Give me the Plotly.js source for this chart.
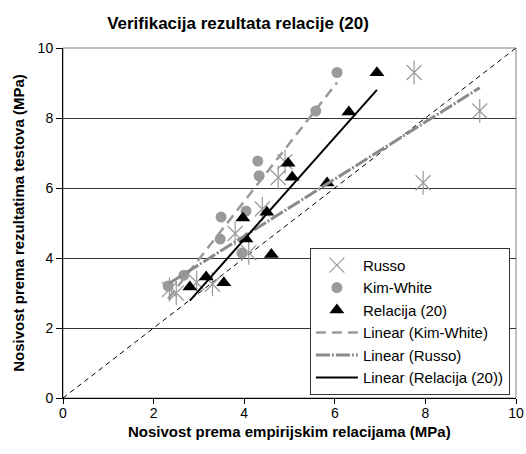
<!DOCTYPE html>
<html>
<head>
<meta charset="utf-8">
<script src="https://cdn.plot.ly/plotly-3.0.1.min.js"></script>
<style>html,body{margin:0;padding:0;background:#fff;}#chart{width:526px;height:454px;}</style>
</head>
<body>
<div id="chart"></div>
<script>
// Data
const russoX = [2.35, 2.5, 2.95, 3.3, 3.8, 4.1, 4.4, 4.75, 4.9, 7.75, 7.95, 9.2];
const russoY = [3.1, 3.0, 3.3, 3.25, 4.7, 4.15, 5.4, 6.3, 6.75, 9.3, 6.15, 8.2];
const kimX = [2.32, 2.67, 3.47, 3.49, 3.95, 4.04, 4.3, 4.33, 5.58, 6.05];
const kimY = [3.2, 3.51, 4.54, 5.17, 4.14, 5.34, 6.77, 6.35, 8.2, 9.3];
const relX = [2.8, 3.16, 3.55, 3.97, 4.04, 4.5, 4.6, 4.97, 5.06, 5.83, 6.31, 6.93];
const relY = [3.17, 3.46, 3.29, 5.14, 4.54, 5.31, 4.1, 6.71, 6.31, 6.14, 8.17, 9.29];
const equalityLine = [0, 10];
const seriesNames = ["Russo", "Kim-White", "Relacija (20)"];
const xTitle = "Nosivost prema empirijskim relacijama (MPa)";
const yTitle = "Nosivost prema rezultatima testova (MPa)";

function linFit(xs, ys) {
  const n = xs.length;
  const mx = xs.reduce((a, b) => a + b, 0) / n;
  const my = ys.reduce((a, b) => a + b, 0) / n;
  let sxy = 0, sxx = 0;
  for (let i = 0; i < n; i++) { sxy += (xs[i] - mx) * (ys[i] - my); sxx += (xs[i] - mx) ** 2; }
  const b = sxy / sxx, a = my - b * mx;
  const x0 = Math.min(...xs), x1 = Math.max(...xs);
  return { x: [x0, x1], y: [a + b * x0, a + b * x1] };
}
const kimFit = linFit(kimX, kimY);
const russoFit = linFit(russoX, russoY);
const relFit = linFit(relX, relY);

const traces = [
  { x: equalityLine, y: equalityLine, mode: 'lines', showlegend: false, hoverinfo: 'skip',
    line: { color: '#000', width: 1, dash: '5px,4px' } },
  { x: russoX, y: russoY, mode: 'markers', name: seriesNames[0], legendgroup: 'g1',
    marker: { symbol: 'x-thin-open', size: 15, color: '#9a9a9a', line: { color: '#9a9a9a', width: 1.2 } } },
  { x: russoX, y: russoY, mode: 'markers', showlegend: false, legendgroup: 'g1', hoverinfo: 'skip',
    marker: { symbol: 'line-ns-open', size: 17, color: '#9a9a9a', line: { color: '#9a9a9a', width: 1.2 } } },
  { x: kimX, y: kimY, mode: 'markers', name: seriesNames[1], legendgroup: 'g2',
    marker: { symbol: 'circle', size: 11, color: '#9a9a9a' } },
  { x: relX, y: relY, mode: 'markers', name: seriesNames[2], legendgroup: 'g3',
    marker: { symbol: 'triangle-up', size: 13, color: '#000' } },
  { x: kimFit.x, y: kimFit.y, mode: 'lines', name: 'Linear (Kim-White)', legendgroup: 'g4',
    line: { color: '#9a9a9a', width: 2.5, dash: '10px,6px' } },
  { x: russoFit.x, y: russoFit.y, mode: 'lines', name: 'Linear (Russo)', legendgroup: 'g5',
    line: { color: '#8a8a8a', width: 3, dash: '14px,2px,2px,2px' } },
  { x: relFit.x, y: relFit.y, mode: 'lines', name: 'Linear (Relacija (20))', legendgroup: 'g6',
    line: { color: '#000', width: 2 } }
];

const layout = {
  width: 526, height: 454,
  margin: { l: 63, r: 10, t: 48, b: 56 },
  paper_bgcolor: '#fff', plot_bgcolor: '#fff',
  font: { family: 'Liberation Sans, Arial, sans-serif', color: '#000', size: 14 },
  title: { text: '<b>Verifikacija rezultata relacije (20)</b>', font: { size: 17 },
    x: 0.4525, xref: 'container', xanchor: 'center', y: 0.95, yref: 'container', yanchor: 'middle' },
  xaxis: {
    range: [0, 10], dtick: 2, tick0: 0, showgrid: false, zeroline: false,
    showline: true, linecolor: '#000', linewidth: 1, ticks: 'outside', ticklen: 5, tickcolor: '#000',
    tickfont: { size: 14 }, ticklabelstandoff: -3
  },
  yaxis: {
    range: [0, 10], dtick: 2, tick0: 0, showgrid: true, gridcolor: '#333', gridwidth: 1, zeroline: false,
    showline: true, linecolor: '#000', linewidth: 1, ticks: 'outside', ticklen: 6, tickcolor: '#000',
    tickfont: { size: 14 },
    title: { text: '<b>' + yTitle + '</b>', font: { size: 15 }, standoff: 9 }
  },
  annotations: [
    { text: '<b>' + xTitle + '</b>', xref: 'paper', yref: 'paper', x: 0.5, y: -0.097,
      xanchor: 'center', yanchor: 'middle', showarrow: false, font: { size: 15 } }
  ],
  shapes: [
    { type: 'rect', xref: 'paper', yref: 'paper', x0: 0, x1: 1, y0: 0, y1: 1,
      line: { color: '#808080', width: 1 }, layer: 'below' }
  ],
  legend: {
    x: 0.545, y: 0.009, xanchor: 'left', yanchor: 'bottom',
    bgcolor: '#fff', bordercolor: '#333', borderwidth: 1,
    font: { size: 15 }, tracegroupgap: 3, itemwidth: 42, traceorder: 'normal'
  },
  showlegend: true
};

Plotly.newPlot('chart', traces, layout, { displayModeBar: false, staticPlot: true });
</script>
</body>
</html>
